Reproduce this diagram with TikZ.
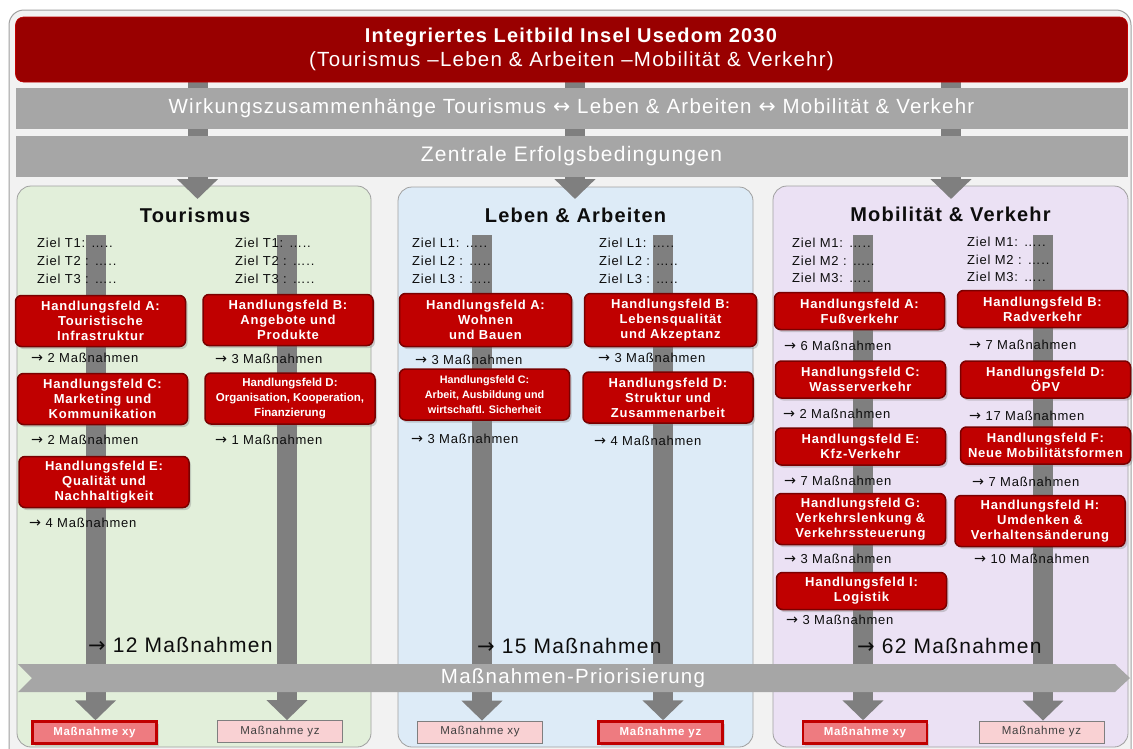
\documentclass[tikz,border=0pt]{standalone}
\usepackage{fontspec}
\setmainfont{Liberation Sans}[LetterSpace=6]
\newfontfamily\plainfont{Liberation Sans}
\newfontfamily\djv{DejaVu Sans}
\usetikzlibrary{arrows.meta,shadows}
\definecolor{bgframe}{HTML}{F2F2F2}
\definecolor{framegray}{HTML}{A0A0A0}
\definecolor{titlered}{HTML}{990000}
\definecolor{bandgray}{HTML}{A6A6A6}
\definecolor{bargray}{HTML}{7F7F7F}
\definecolor{pgreen}{HTML}{E2EFDA}
\definecolor{pblue}{HTML}{DDEBF7}
\definecolor{plav}{HTML}{EBE1F4}
\definecolor{hfred}{HTML}{C00000}
\definecolor{hfborder}{HTML}{7A0000}
\definecolor{salmon}{HTML}{EE7B80}
\definecolor{lpink}{HTML}{F9D1D3}
\definecolor{txtdark}{HTML}{0D0D0D}
\pgfdeclarelayer{back}
\pgfdeclarelayer{mid}
\pgfsetlayers{back,mid,main}
\newcommand{\ra}{{\djv\addfontfeatures{Scale=1.1}→}}
\newcommand{\lra}{{\djv ↔}}
\begin{document}
\begin{tikzpicture}[x=1pt,y=-1pt,
  panel/.style={draw=framegray, line width=0.8pt, rounded corners=14pt, inner sep=0pt},
  bandbox/.style={fill=bandgray, inner sep=0pt, minimum width=1112pt, minimum height=41pt, text=white},
  ptitle/.style={font=\bfseries\fontsize{20}{24}\selectfont, inner sep=0pt, text=txtdark},
  hf/.style={draw=hfborder, line width=1.5pt, fill=hfred, rounded corners=6pt, text=white, align=center,
    inner sep=1pt, font=\bfseries\fontsize{13}{15}\selectfont, minimum width=170pt,
    drop shadow={shadow xshift=2pt, shadow yshift=-2.5pt, opacity=0.35}},
  hfthree/.style={hf, minimum height=51pt},
  hftwo/.style={hf, minimum height=37pt},
  ziel/.style={anchor=west, font=\fontsize{13}{15}\selectfont, inner sep=0pt, text=txtdark},
  mn/.style={anchor=west, font=\fontsize{13}{15}\selectfont, inner sep=0pt, text=txtdark},
  total/.style={anchor=west, font=\fontsize{21}{26}\selectfont, inner sep=0pt, text=txtdark},
  bigflow/.style={draw=bargray, line width=20pt, line cap=butt, -{Triangle[width=40pt,length=20pt]}},
  mhigh/.style={fill=salmon, draw=hfred, line width=2.5pt, text=white, font=\bfseries\fontsize{11.5}{13}\selectfont,
    minimum width=124pt, minimum height=22pt, inner sep=0pt,
    drop shadow={shadow xshift=2pt, shadow yshift=-2pt, opacity=0.3}},
  mlow/.style={fill=lpink, draw=bargray, line width=0.8pt, text=black!75, font=\fontsize{11.5}{13}\selectfont,
    minimum width=125pt, minimum height=22pt, inner sep=0pt}
]
\useasboundingbox (0,0) rectangle (1133,748);

% background frame and panels
\begin{pgfonlayer}{back}
\path[fill=bgframe, draw=framegray, line width=1pt, rounded corners=15pt] (9,10) rectangle (1131,770);
\node[panel, fill=pgreen, minimum width=354pt, minimum height=561pt] (pT) at (194,466.5) {};
\node[panel, fill=pblue, minimum width=355pt, minimum height=560pt] (pL) at (575.5,467) {};
\node[panel, fill=plav, minimum width=355pt, minimum height=561pt] (pM) at (950.5,466.5) {};
\end{pgfonlayer}

% title and bands
\node[fill=titlered, draw=hfred, line width=0.6pt, rounded corners=8pt, minimum width=1112pt, minimum height=65pt,
  inner sep=0pt, text=white, align=center, font=\fontsize{20}{24}\selectfont] (title) at (571.5,49.5)
  {\textbf{Integriertes Leitbild Insel Usedom 2030}\\{\fontsize{20.5}{24}\selectfont(Tourismus –Leben \& Arbeiten –Mobilität \& Verkehr)}};
\node[bandbox, font=\fontsize{20.5}{25}\selectfont] (wz) at (571.5,108.5)
  {Wirkungszusammenhänge Tourismus \lra{} Leben \& Arbeiten \lra{} Mobilität \& Verkehr};
\node[bandbox, font=\fontsize{21}{25}\selectfont] (ze) at (571.5,156.5) {Zentrale Erfolgsbedingungen};

\coordinate (a1) at (197.5,199);
\coordinate (a2) at (575,199);
\coordinate (a3) at (951,199);
\begin{pgfonlayer}{mid}
\draw[bigflow] (title.south -| a1) -- (a1);
\draw[bigflow] (title.south -| a2) -- (a2);
\draw[bigflow] (title.south -| a3) -- (a3);
\end{pgfonlayer}

% panel titles
\node[ptitle] (tT) at (195,215) {Tourismus};
\node[ptitle] (tL) at (575.5,215) {Leben \& Arbeiten};
\node[ptitle] (tM) at (950.5,214) {Mobilität \& Verkehr};

% bottom boxes
\node[mhigh] (bT1) at (94.5,732.5) {Maßnahme xy};
\node[mlow]  (bT2) at (280,731.5) {Maßnahme yz};
\node[mlow]  (bL1) at (480,732) {Maßnahme xy};
\node[mhigh] (bL2) at (660.5,732.5) {Maßnahme yz};
\node[mhigh] (bM1) at (865,732.5) {Maßnahme xy};
\node[mlow]  (bM2) at (1041.5,732) {Maßnahme yz};

% vertical flows
\coordinate (sT1) at (95.5,235);
\coordinate (sT2) at (287,235);
\coordinate (sL1) at (482,235);
\coordinate (sL2) at (663,235);
\coordinate (sM1) at (863,235);
\coordinate (sM2) at (1043,235);
\draw[bigflow] (sT1) -- (sT1 |- bT1.north);
\draw[bigflow] (sT2) -- (sT2 |- bT2.north);
\draw[bigflow] (sL1) -- (sL1 |- bL1.north);
\draw[bigflow] (sL2) -- (sL2 |- bL2.north);
\draw[bigflow] (sM1) -- (sM1 |- bM1.north);
\draw[bigflow] (sM2) -- (sM2 |- bM2.north);

% Ziele
\node[ziel] (zT1a) at (37,243) {Ziel T1: …..};
\node[ziel] (zT2a) at (37,261) {Ziel T2 : …..};
\node[ziel] (zT3a) at (37,279) {Ziel T3 : …..};
\node[ziel] (zT1b) at (235,243) {Ziel T1: …..};
\node[ziel] (zT2b) at (235,261) {Ziel T2 : …..};
\node[ziel] (zT3b) at (235,279) {Ziel T3 : …..};
\node[ziel] (zL1a) at (412,243) {Ziel L1: …..};
\node[ziel] (zL2a) at (412,261) {Ziel L2 : …..};
\node[ziel] (zL3a) at (412,279) {Ziel L3 : …..};
\node[ziel] (zL1b) at (599,243) {Ziel L1: …..};
\node[ziel] (zL2b) at (599,261) {Ziel L2 : …..};
\node[ziel] (zL3b) at (599,279) {Ziel L3 : …..};
\node[ziel] (zM1a) at (792,243) {Ziel M1: …..};
\node[ziel] (zM2a) at (792,261) {Ziel M2 : …..};
\node[ziel] (zM3a) at (792,278) {Ziel M3: …..};
\node[ziel] (zM1b) at (967,242) {Ziel M1: …..};
\node[ziel] (zM2b) at (967,260) {Ziel M2 : …..};
\node[ziel] (zM3b) at (967,277) {Ziel M3: …..};

% Handlungsfelder Tourismus
\node[hfthree] (hTA) at (100.5,321) {Handlungsfeld A:\\Touristische\\Infrastruktur};
\node[hfthree] (hTC) at (102.5,399) {Handlungsfeld C:\\Marketing und\\Kommunikation};
\node[hfthree] (hTE) at (104,482) {Handlungsfeld E:\\Qualität und\\Nachhaltigkeit};
\node[hfthree] (hTB) at (288,320) {Handlungsfeld B:\\Angebote und\\Produkte};
\node[hfthree, font=\plainfont\bfseries\fontsize{11.5}{15}\selectfont] (hTD) at (290,398.5) {Handlungsfeld D:\\Organisation, Kooperation,\\Finanzierung};
% Leben
\node[hfthree, minimum width=172pt, minimum height=53pt] (hLA) at (485.5,320) {Handlungsfeld A:\\Wohnen\\und Bauen};
\node[hfthree, font=\plainfont\bfseries\fontsize{10.8}{15}\selectfont] (hLC) at (484.5,394.5) {Handlungsfeld C:\\Arbeit, Ausbildung und\\wirtschaftl. Sicherheit};
\node[hfthree, minimum width=172pt, minimum height=53pt] (hLB) at (670.5,320) {Handlungsfeld B:\\Lebensqualität\\und Akzeptanz};
\node[hfthree] (hLD) at (668,397.5) {Handlungsfeld D:\\Struktur und\\Zusammenarbeit};
% Mobilitaet
\node[hftwo] (hMA) at (859.5,311) {Handlungsfeld A:\\Fußverkehr};
\node[hftwo] (hMC) at (860.5,379.5) {Handlungsfeld C:\\Wasserverkehr};
\node[hftwo] (hME) at (860.5,446.5) {Handlungsfeld E:\\Kfz-Verkehr};
\node[hfthree] (hMG) at (860.5,519) {Handlungsfeld G:\\Verkehrslenkung \&\\Verkehrssteuerung};
\node[hftwo] (hMI) at (861.5,591) {Handlungsfeld I:\\Logistik};
\node[hftwo] (hMB) at (1042.5,309) {Handlungsfeld B:\\Radverkehr};
\node[hftwo] (hMD) at (1045.5,379.5) {Handlungsfeld D:\\ÖPV};
\node[hftwo] (hMF) at (1045.5,445.5) {Handlungsfeld F:\\Neue Mobilitätsformen};
\node[hfthree] (hMH) at (1040,521) {Handlungsfeld H:\\Umdenken \&\\Verhaltensänderung};

% Massnahmen counts
\node[mn] (nTA) at (31,358) {\ra{} 2 Maßnahmen};
\node[mn] (nTC) at (31,440) {\ra{} 2 Maßnahmen};
\node[mn] (nTE) at (29,523) {\ra{} 4 Maßnahmen};
\node[mn] (nTB) at (215,359) {\ra{} 3 Maßnahmen};
\node[mn] (nTD) at (215,440) {\ra{} 1 Maßnahmen};
\node[mn] (nLA) at (415,360) {\ra{} 3 Maßnahmen};
\node[mn] (nLC) at (411,439) {\ra{} 3 Maßnahmen};
\node[mn] (nLB) at (598,358) {\ra{} 3 Maßnahmen};
\node[mn] (nLD) at (594,441) {\ra{} 4 Maßnahmen};
\node[mn] (nMA) at (784,346) {\ra{} 6 Maßnahmen};
\node[mn] (nMC) at (783,414) {\ra{} 2 Maßnahmen};
\node[mn] (nME) at (784,481) {\ra{} 7 Maßnahmen};
\node[mn] (nMG) at (784,559) {\ra{} 3 Maßnahmen};
\node[mn] (nMI) at (786,620) {\ra{} 3 Maßnahmen};
\node[mn] (nMB) at (969,345) {\ra{} 7 Maßnahmen};
\node[mn] (nMD) at (969,416) {\ra{} 17 Maßnahmen};
\node[mn] (nMF) at (972,482) {\ra{} 7 Maßnahmen};
\node[mn] (nMH) at (974,559) {\ra{} 10 Maßnahmen};

% totals
\node[total] (sumT) at (88,645) {{\djv →} 12 Maßnahmen};
\node[total] (sumL) at (477,646) {{\djv →} 15 Maßnahmen};
\node[total] (sumM) at (857,646) {{\djv →} 62 Maßnahmen};

% Priorisierung band
\fill[bandgray] (18,664) -- (1115,664) -- (1130,678) -- (1115,692) -- (18,692) -- (32,678) -- cycle;
\node[text=white, font=\fontsize{20.5}{24}\selectfont, inner sep=0pt] (prio) at (573,678) {Maßnahmen-Priorisierung};
\end{tikzpicture}
\end{document}
